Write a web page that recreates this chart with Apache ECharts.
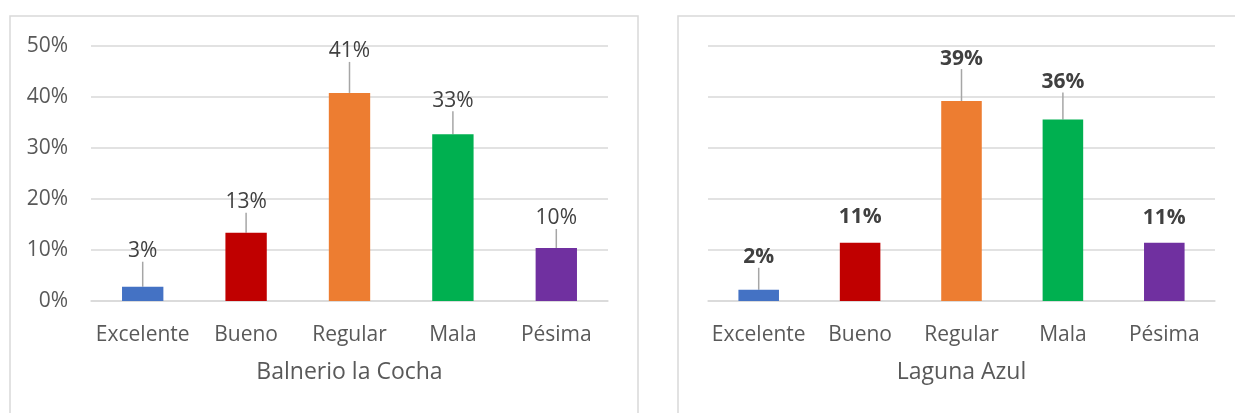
<!DOCTYPE html>
<html>
<head>
<meta charset="utf-8">
<script src="https://cdn.jsdelivr.net/npm/echarts@6/dist/echarts.min.js"></script>
<style>
  html, body { margin: 0; padding: 0; background: #fff; }
  #chart { width: 1235px; height: 413px; }
</style>
</head>
<body>
<div id="chart"></div>
<script>
const categories = ['Excelente', 'Bueno', 'Regular', 'Mala', 'Pésima'];
const cochaValues = [2.8, 13.4, 40.8, 32.7, 10.4];
const azulValues = [2.2, 11.4, 39.2, 35.6, 11.4];
const barColors = ['#4472C4', '#C00000', '#ED7D31', '#00B050', '#7030A0'];
const panelTitles = ['Balnerio la Cocha', 'Laguna Azul'];

// how far each data label sits above its bar (Excel callouts)
const cochaLabelLift = [20, 15, 26, 18, 14];
const azulLabelLift = [17, 10, 27, 22, 9];

const font = '"Open Sans", "Noto Sans", sans-serif';
const textGrey = '#595959';
const gridGrey = '#d9d9d9';

function buildData(values, lift) {
  return values.map((v, i) => ({
    value: v,
    itemStyle: { color: barColors[i] },
    labelLine: { show: lift[i] > 12 }
  }));
}

function xAxisFor(idx) {
  return {
    type: 'category',
    gridIndex: idx,
    data: categories,
    name: panelTitles[idx],
    nameLocation: 'middle',
    nameGap: 60,
    nameTextStyle: { color: textGrey, fontSize: 23, fontFamily: font },
    axisLine: { show: true, lineStyle: { color: gridGrey, width: 1.5 } },
    axisTick: { show: false },
    axisLabel: { color: textGrey, fontSize: 21, fontFamily: font, margin: 24, interval: 0 }
  };
}

function yAxisFor(idx) {
  return {
    type: 'value',
    gridIndex: idx,
    min: 0,
    max: 50,
    interval: 10,
    axisLine: { show: false },
    axisTick: { show: false },
    axisLabel: {
      show: idx === 0,
      color: textGrey,
      fontSize: 21,
      fontFamily: font,
      margin: 23,
      formatter: '{value}%'
    },
    splitLine: { lineStyle: { color: gridGrey, width: 1.5 } }
  };
}

function seriesFor(idx, values, lift, bold) {
  return {
    type: 'bar',
    xAxisIndex: idx,
    yAxisIndex: idx,
    barWidth: '40%',
    data: buildData(values, lift),
    label: {
      show: true,
      position: 'top',
      distance: 5,
      color: '#404040',
      fontSize: 21,
      fontWeight: bold ? 'bold' : 'normal',
      fontFamily: font,
      formatter: p => Math.round(p.value) + '%'
    },
    labelLayout: p => ({ dy: -lift[p.dataIndex] }),
    labelLine: { lineStyle: { color: '#a6a6a6', width: 1.5 } },
    animation: false
  };
}

const chart = echarts.init(document.getElementById('chart'));

chart.setOption({
  animation: false,
  graphic: [
    { type: 'rect', shape: { x: 10, y: 16, width: 628, height: 420 },
      style: { fill: 'none', stroke: gridGrey, lineWidth: 1.5 }, silent: true },
    { type: 'rect', shape: { x: 678, y: 16, width: 580, height: 420 },
      style: { fill: 'none', stroke: gridGrey, lineWidth: 1.5 }, silent: true }
  ],
  grid: [
    { left: 91, right: 627, top: 46, height: 255 },
    { left: 708, right: 20, top: 46, height: 255 }
  ],
  xAxis: [xAxisFor(0), xAxisFor(1)],
  yAxis: [yAxisFor(0), yAxisFor(1)],
  series: [
    seriesFor(0, cochaValues, cochaLabelLift, false),
    seriesFor(1, azulValues, azulLabelLift, true)
  ]
});
</script>
</body>
</html>
